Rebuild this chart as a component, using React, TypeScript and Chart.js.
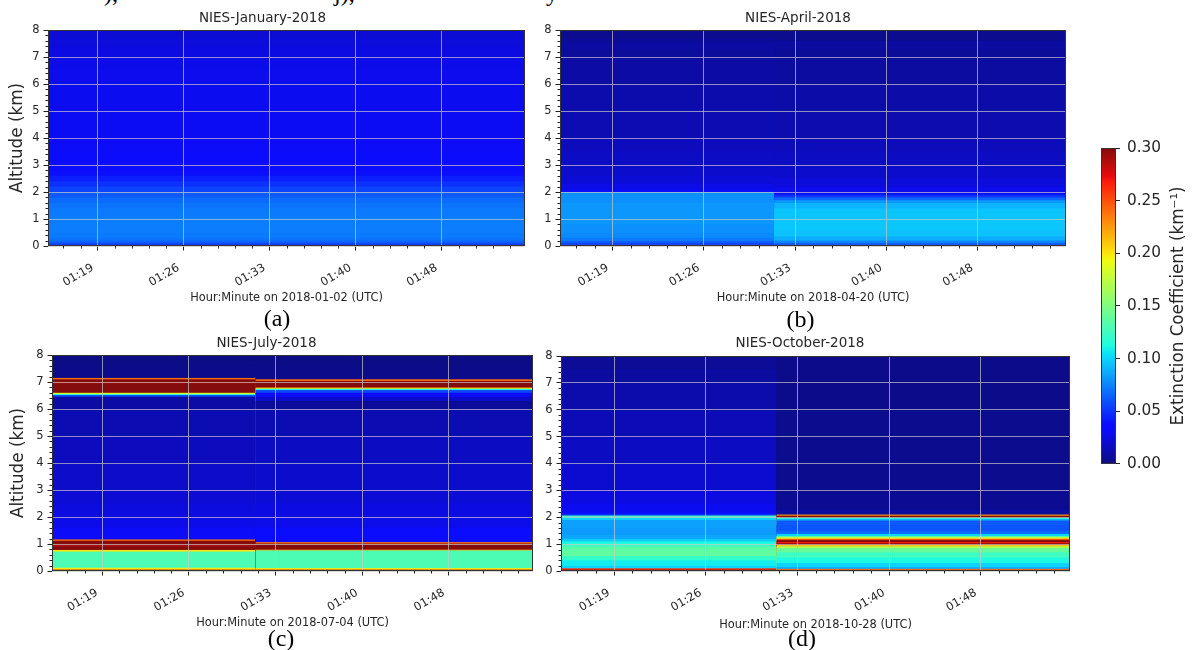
import React, { useEffect, useRef } from "react";
import { Chart, registerables } from "chart.js";

Chart.register(...registerables);

const FONT = "'DejaVu Sans', 'Liberation Sans', sans-serif";
const TEXT = "#262626";
const TICK = "#222222";
const GRID = "rgba(200,200,200,0.7)";
const FRAME = "#333333";

Chart.defaults.font.family = FONT;
Chart.defaults.color = TEXT;

// ---------------- data ----------------
// time axis in minutes after 01:00 UTC
const timeStartMinute = 14.95;
const timeEndMinute = 53.8;
const profileSwitchMinute = 31.4;
const timeTickMinutes = [19, 26, 33, 40, 47];
const timeTickLabels = ["01:19", "01:26", "01:33", "01:40", "01:48"];
const altitudeTicks = [0, 1, 2, 3, 4, 5, 6, 7, 8];
const colorbarTicks = [0, 0.05, 0.1, 0.15, 0.2, 0.25, 0.3];
const colorbarTickLabels = ["0.00", "0.05", "0.10", "0.15", "0.20", "0.25", "0.30"];
const extinctionMax = 0.3;

const panelTitles = ["NIES-January-2018", "NIES-April-2018", "NIES-July-2018", "NIES-October-2018"];
const panelDates = ["2018-01-02", "2018-04-20", "2018-07-04", "2018-10-28"];
const panelCaptions = ["(a)", "(b)", "(c)", "(d)"];

// layer top altitude (km) and extinction coefficient (km^-1) of each layer
const janTops = [0.04, 0.08, 0.13, 0.2, 0.3, 0.5, 0.8, 1.1, 1.4, 1.6, 1.8, 2.0, 2.2, 2.4, 2.6, 2.8, 3.0, 3.5, 4.0, 5.0, 6.0, 6.5, 7.0, 7.4, 7.7, 8.0];
const janValues = [0.18, 0.048, 0.058, 0.066, 0.07, 0.072, 0.073, 0.073, 0.072, 0.07, 0.067, 0.062, 0.055, 0.049, 0.043, 0.038, 0.035, 0.033, 0.032, 0.031, 0.03, 0.029, 0.028, 0.026, 0.024, 0.022];

const aprEarlyTops = [0.04, 0.1, 0.18, 0.3, 0.5, 0.8, 1.2, 1.6, 2.0, 2.1, 2.3, 2.6, 3.0, 3.5, 4.0, 5.0, 6.0, 7.0, 7.3, 7.5, 7.7, 8.0];
const aprEarlyValues = [0.21, 0.052, 0.063, 0.072, 0.077, 0.079, 0.081, 0.081, 0.079, 0.032, 0.027, 0.023, 0.02, 0.018, 0.016, 0.013, 0.011, 0.009, 0.007, 0.009, 0.006, 0.003];
const aprLateTops = [0.04, 0.1, 0.2, 0.35, 0.6, 1.0, 1.4, 1.6, 1.7, 1.8, 1.9, 2.0, 2.2, 2.5, 3.0, 3.5, 4.0, 5.0, 6.0, 7.0, 7.3, 7.6, 8.0];
const aprLateValues = [0.21, 0.058, 0.075, 0.088, 0.094, 0.096, 0.095, 0.09, 0.08, 0.066, 0.05, 0.036, 0.028, 0.024, 0.02, 0.017, 0.015, 0.012, 0.01, 0.008, 0.006, 0.008, 0.003];

const julEarlyTops = [0.05, 0.12, 0.72, 0.78, 0.9, 0.97, 1.12, 1.17, 1.25, 1.6, 2.0, 2.5, 3.0, 4.0, 5.0, 6.0, 6.46, 6.52, 6.56, 6.6, 6.95, 7.0, 7.1, 7.15, 7.6, 8.0];
const julEarlyValues = [0.32, 0.2, 0.13, 0.2, 0.32, 0.29, 0.32, 0.24, 0.035, 0.032, 0.028, 0.025, 0.022, 0.019, 0.016, 0.013, 0.009, 0.06, 0.12, 0.19, 0.32, 0.29, 0.32, 0.24, 0.002, 0.001];
const julLateTops = [0.05, 0.11, 0.76, 0.79, 0.92, 0.96, 1.02, 1.07, 1.15, 1.6, 2.0, 2.5, 3.0, 4.0, 5.0, 6.0, 6.3, 6.45, 6.6, 6.7, 6.74, 6.77, 6.8, 7.0, 7.04, 7.1, 7.6, 8.0];
const julLateValues = [0.32, 0.2, 0.13, 0.22, 0.32, 0.3, 0.32, 0.24, 0.036, 0.033, 0.029, 0.026, 0.023, 0.02, 0.017, 0.013, 0.006, 0.02, 0.036, 0.055, 0.11, 0.17, 0.23, 0.32, 0.3, 0.24, 0.002, 0.001];

const octEarlyTops = [0.05, 0.1, 0.2, 0.4, 0.55, 0.75, 0.9, 1.0, 1.1, 1.2, 1.35, 1.6, 1.9, 2.0, 2.06, 2.1, 2.2, 2.5, 3.0, 4.0, 5.0, 6.0, 7.0, 7.5, 8.0];
const octEarlyValues = [0.32, 0.26, 0.1, 0.108, 0.12, 0.138, 0.135, 0.125, 0.112, 0.098, 0.085, 0.082, 0.084, 0.1, 0.13, 0.06, 0.038, 0.03, 0.026, 0.021, 0.017, 0.014, 0.011, 0.008, 0.005];
const octLateTops = [0.04, 0.08, 0.15, 0.3, 0.5, 0.7, 0.85, 0.92, 0.97, 1.03, 1.08, 1.15, 1.2, 1.25, 1.3, 1.38, 1.5, 1.7, 1.88, 1.94, 1.98, 2.06, 2.1, 2.3, 3.0, 4.0, 5.0, 6.0, 7.0, 8.0];
const octLateValues = [0.32, 0.24, 0.088, 0.1, 0.112, 0.125, 0.14, 0.17, 0.21, 0.32, 0.27, 0.32, 0.25, 0.19, 0.14, 0.1, 0.066, 0.06, 0.062, 0.09, 0.12, 0.32, 0.22, 0.007, 0.004, 0.003, 0.003, 0.003, 0.002, 0.002];

type Profile = { start: number; tops: number[]; values: number[] };

const panelColumns: Profile[][] = [
  [{ start: timeStartMinute, tops: janTops, values: janValues }],
  [
    { start: timeStartMinute, tops: aprEarlyTops, values: aprEarlyValues },
    { start: profileSwitchMinute, tops: aprLateTops, values: aprLateValues },
  ],
  [
    { start: timeStartMinute, tops: julEarlyTops, values: julEarlyValues },
    { start: profileSwitchMinute, tops: julLateTops, values: julLateValues },
  ],
  [
    { start: timeStartMinute, tops: octEarlyTops, values: octEarlyValues },
    { start: profileSwitchMinute, tops: octLateTops, values: octLateValues },
  ],
];

// ---------------- layout (positions / sizes) ----------------
const PANEL_BOXES = [
  { left: 0, top: 0, width: 540, height: 310, yAxisWidth: 48, padRight: 15, titlePadTop: 9.9, titlePadBottom: 3.9, xAxisHeight: 64, xTitlePadBottom: 4.65, yTitle: true, yTitlePadTop: 7.9, capX: 277, capY: 320 },
  { left: 530, top: 0, width: 545, height: 310, yAxisWidth: 30, padRight: 9, titlePadTop: 9.9, titlePadBottom: 3.9, xAxisHeight: 64, xTitlePadBottom: 4.65, yTitle: false, yTitlePadTop: 0, capX: 800.5, capY: 321 },
  { left: 0, top: 325, width: 545, height: 310, yAxisWidth: 52, padRight: 12, titlePadTop: 9.9, titlePadBottom: 3.9, xAxisHeight: 64, xTitlePadBottom: 4.65, yTitle: true, yTitlePadTop: 8.9, capX: 281, capY: 640 },
  { left: 530, top: 325, width: 545, height: 310, yAxisWidth: 31, padRight: 5, titlePadTop: 9.9, titlePadBottom: 4.9, xAxisHeight: 64, xTitlePadBottom: 3.15, yTitle: false, yTitlePadTop: 0, capX: 802, capY: 640 },
];
const COLORBAR_BOX = { left: 1090, top: 130, width: 105, height: 350 };

// ---------------- colormap (jet) ----------------
const JET_R = [[0, 0], [0.35, 0], [0.66, 1], [0.89, 1], [1, 0.5]];
const JET_G = [[0, 0], [0.125, 0], [0.375, 1], [0.64, 1], [0.91, 0], [1, 0]];
const JET_B = [[0, 0.5], [0.11, 1], [0.34, 1], [0.65, 0], [1, 0]];
const JET_BREAKS = [0, 0.11, 0.125, 0.34, 0.35, 0.375, 0.64, 0.65, 0.66, 0.89, 0.91, 1];

function seg(t: number, pts: number[][]): number {
  for (let i = 0; i < pts.length - 1; i++) {
    const [t0, v0] = pts[i];
    const [t1, v1] = pts[i + 1];
    if (t <= t1) return v0 + ((v1 - v0) * (t - t0)) / (t1 - t0 || 1);
  }
  return pts[pts.length - 1][1];
}

function jetFrac(t: number): string {
  const tt = Math.max(0, Math.min(1, t));
  const c = [seg(tt, JET_R), seg(tt, JET_G), seg(tt, JET_B)].map((x) => Math.round(x * 255 * 0.94 + 12));
  return `rgb(${c[0]},${c[1]},${c[2]})`;
}

function jetColor(v: number): string {
  return jetFrac(v / extinctionMax);
}

// ---------------- plugins ----------------
function heatmapPlugin(columns: Profile[]) {
  return {
    id: "heatmap",
    beforeDraw(chart: any) {
      const { ctx, chartArea: a, scales } = chart;
      const xs = scales.x;
      const ys = scales.y;
      ctx.save();
      ctx.beginPath();
      ctx.rect(a.left, a.top, a.right - a.left, a.bottom - a.top);
      ctx.clip();
      const yBase = ys.getPixelForValue(0);
      columns.forEach((col, ci) => {
        const x0 = xs.getPixelForValue(col.start);
        const x1 =
          ci < columns.length - 1
            ? xs.getPixelForValue(columns[ci + 1].start) + 1
            : xs.getPixelForValue(timeEndMinute);
        for (let k = col.tops.length - 1; k >= 0; k--) {
          const yTop = ys.getPixelForValue(col.tops[k]);
          ctx.fillStyle = jetColor(col.values[k]);
          ctx.fillRect(x0, yTop, x1 - x0, yBase - yTop);
        }
      });
      ctx.restore();
    },
  };
}

const axisDecorPlugin = {
  id: "axisDecor",
  afterDraw(chart: any) {
    const { ctx, chartArea: a, scales } = chart;
    const xs = scales.x;
    const ys = scales.y;
    ctx.save();
    ctx.strokeStyle = TICK;
    ctx.lineWidth = 1;
    ctx.beginPath();
    const minorStep = (timeTickMinutes[1] - timeTickMinutes[0]) / 5;
    const jFrom = Math.ceil((timeStartMinute - timeTickMinutes[0]) / minorStep);
    const jTo = Math.floor((timeEndMinute - timeTickMinutes[0]) / minorStep);
    for (let j = jFrom; j <= jTo; j++) {
      if (j % 5 === 0) continue;
      const px = Math.round(xs.getPixelForValue(timeTickMinutes[0] + j * minorStep)) + 0.5;
      ctx.moveTo(px, a.bottom);
      ctx.lineTo(px, a.bottom + 2.5);
    }
    for (let k = 1; k < 40; k++) {
      if (k % 5 === 0) continue;
      const py = Math.round(ys.getPixelForValue(k * 0.2)) + 0.5;
      ctx.moveTo(a.left - 2.5, py);
      ctx.lineTo(a.left, py);
    }
    ctx.stroke();
    ctx.strokeStyle = FRAME;
    ctx.strokeRect(a.left + 0.5, a.top + 0.5, a.right - a.left - 1, a.bottom - a.top - 1);
    ctx.restore();
  },
};

const colorbarPlugin = {
  id: "colorbar",
  beforeDraw(chart: any) {
    const { ctx, chartArea: a, scales } = chart;
    const ys = scales.y;
    const y0 = ys.getPixelForValue(0);
    const y1 = ys.getPixelForValue(extinctionMax);
    const g = ctx.createLinearGradient(0, y0, 0, y1);
    JET_BREAKS.forEach((t) => g.addColorStop(t, jetFrac(t)));
    ctx.save();
    ctx.fillStyle = g;
    ctx.fillRect(a.left, a.top, a.right - a.left, a.bottom - a.top);
    ctx.restore();
  },
  afterDraw(chart: any) {
    const { ctx, chartArea: a, scales } = chart;
    const ys = scales.y;
    ctx.save();
    ctx.strokeStyle = FRAME;
    ctx.lineWidth = 1;
    ctx.strokeRect(a.left + 0.5, a.top + 0.5, a.right - a.left - 1, a.bottom - a.top - 1);
    ctx.translate(ys.right - 16, (a.top + a.bottom) / 2);
    ctx.rotate(-Math.PI / 2);
    ctx.fillStyle = TEXT;
    ctx.font = `16.8px ${FONT}`;
    ctx.textAlign = "center";
    ctx.textBaseline = "middle";
    ctx.fillText("Extinction Coefficient (km\u207B\u00B9)", 0, 0);
    ctx.restore();
  },
};

// ---------------- chart configs ----------------
function buildPanelConfig(i: number): any {
  const box = PANEL_BOXES[i];
  return {
    type: "scatter",
    data: { datasets: [] },
    options: {
      responsive: false,
      animation: false,
      events: [],
      layout: { padding: { left: 0, right: box.padRight, top: 0, bottom: 0 } },
      plugins: {
        legend: { display: false },
        tooltip: { enabled: false },
        title: {
          display: true,
          text: panelTitles[i],
          color: TEXT,
          font: { size: 13.5, weight: "normal", family: FONT },
          padding: { top: box.titlePadTop, bottom: box.titlePadBottom },
        },
      },
      scales: {
        x: {
          type: "linear",
          min: timeStartMinute,
          max: timeEndMinute,
          bounds: "data",
          afterBuildTicks: (s: any) => {
            s.ticks = timeTickMinutes.map((v) => ({ value: v }));
          },
          afterFit: (s: any) => {
            s.height = box.xAxisHeight;
          },
          ticks: {
            autoSkip: false,
            minRotation: 30,
            maxRotation: 30,
            padding: 10.5,
            labelOffset: -5,
            color: TEXT,
            font: { size: 11.5, family: FONT },
            callback: (_v: any, idx: number) => timeTickLabels[idx],
          },
          grid: { color: GRID, lineWidth: 1, tickLength: 4.5, tickColor: TICK, tickWidth: 1 },
          border: { display: false },
          title: {
            display: true,
            text: `Hour:Minute on ${panelDates[i]} (UTC)`,
            color: TEXT,
            font: { size: 11.4, family: FONT },
            padding: { top: 0, bottom: box.xTitlePadBottom },
          },
        },
        y: {
          type: "linear",
          min: 0,
          max: 8,
          bounds: "data",
          afterBuildTicks: (s: any) => {
            s.ticks = altitudeTicks.map((v) => ({ value: v }));
          },
          afterFit: (s: any) => {
            s.width = box.yAxisWidth;
          },
          ticks: {
            padding: 4,
            color: TEXT,
            font: { size: 11.5, family: FONT },
            callback: (v: any) => String(v),
          },
          grid: { color: GRID, lineWidth: 1, tickLength: 4.5, tickColor: TICK, tickWidth: 1 },
          border: { display: false },
          title: {
            display: box.yTitle,
            text: "Altitude (km)",
            color: TEXT,
            font: { size: 16.8, family: FONT },
            padding: { top: box.yTitlePadTop, bottom: 0 },
          },
        },
      },
    },
    plugins: [heatmapPlugin(panelColumns[i]), axisDecorPlugin],
  };
}

function buildColorbarConfig(): any {
  return {
    type: "scatter",
    data: { datasets: [] },
    options: {
      responsive: false,
      animation: false,
      events: [],
      layout: { padding: { left: 11, right: 0, top: 18, bottom: 14 } },
      plugins: { legend: { display: false }, tooltip: { enabled: false }, title: { display: false } },
      scales: {
        x: { display: false, min: 0, max: 1 },
        y: {
          position: "right",
          min: 0,
          max: extinctionMax,
          bounds: "data",
          afterBuildTicks: (s: any) => {
            s.ticks = colorbarTicks.map((v) => ({ value: v }));
          },
          afterFit: (s: any) => {
            s.width = 79;
          },
          ticks: {
            padding: 7,
            color: TEXT,
            font: { size: 15.3, family: FONT },
            callback: (_v: any, idx: number) => colorbarTickLabels[idx],
          },
          grid: { drawOnChartArea: false, tickLength: 4, tickColor: TICK, tickWidth: 1 },
          border: { display: false },
        },
      },
    },
    plugins: [colorbarPlugin],
  };
}

// ---------------- components ----------------
function ChartCanvas({ box, build }: { box: { left: number; top: number; width: number; height: number }; build: () => any }) {
  const ref = useRef<HTMLCanvasElement>(null);
  useEffect(() => {
    const chart = new Chart(ref.current as HTMLCanvasElement, build());
    return () => chart.destroy();
  }, []);
  return (
    <canvas
      ref={ref}
      width={box.width}
      height={box.height}
      style={{ position: "absolute", left: box.left, top: box.top, width: box.width, height: box.height }}
    />
  );
}

const serifStyle: React.CSSProperties = {
  position: "absolute",
  fontFamily: "'Liberation Serif', 'Times New Roman', serif",
  fontSize: 24,
  lineHeight: "24px",
  color: "#000",
  whiteSpace: "nowrap",
};

export default function App() {
  return (
    <div
      style={{
        position: "absolute",
        left: 0,
        top: 0,
        width: 1195,
        height: 650,
        overflow: "hidden",
        background: "#ffffff",
      }}
    >
      <span style={{ ...serifStyle, left: 104, top: -19 }}>),</span>
      <span style={{ ...serifStyle, left: 334, top: -19 }}>j),</span>
      <span style={{ ...serifStyle, left: 546, top: -19 }}>y</span>
      {PANEL_BOXES.map((box, i) => (
        <ChartCanvas key={i} box={box} build={() => buildPanelConfig(i)} />
      ))}
      <ChartCanvas box={COLORBAR_BOX} build={buildColorbarConfig} />
      {PANEL_BOXES.map((box, i) => (
        <div
          key={`cap${i}`}
          style={{ ...serifStyle, left: box.capX - 20, width: 40, textAlign: "center", top: box.capY - 14 }}
        >
          {panelCaptions[i]}
        </div>
      ))}
    </div>
  );
}
